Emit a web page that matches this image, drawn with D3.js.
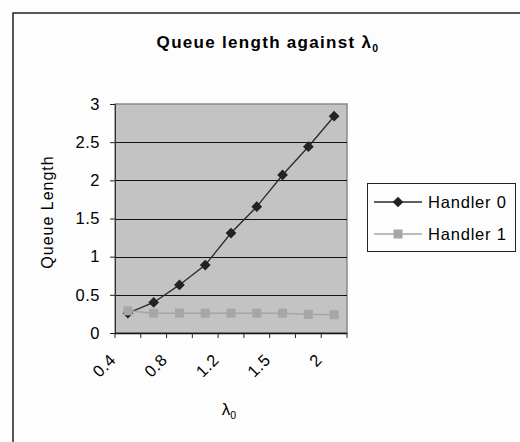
<!DOCTYPE html>
<html>
<head>
<meta charset="utf-8">
<script src="https://cdn.jsdelivr.net/npm/d3@7"></script>
<style>
  html, body { margin: 0; padding: 0; background: #fdfdfd; }
  svg { display: block; }
  text { font-family: "Liberation Sans", Arial, sans-serif; fill: #000; }
</style>
</head>
<body>
<svg id="chart" width="520" height="442"></svg>
<script>
// ---- data ----
const categories = ["0.4", "0.6", "0.8", "1", "1.2", "1.35", "1.5", "1.8", "2"];
const labelledCategories = ["0.4", "0.8", "1.2", "1.5", "2"];
const handler0 = [0.26, 0.40, 0.63, 0.89, 1.31, 1.655, 2.07, 2.44, 2.84];
const handler1 = [0.29, 0.26, 0.26, 0.26, 0.26, 0.26, 0.26, 0.245, 0.24];
const yTicks = [0, 0.5, 1, 1.5, 2, 2.5, 3];
const seriesNames = ["Handler 0", "Handler 1"];

const svg = d3.select("#chart");

// outer chart border (extends beyond the window at right/bottom)
svg.append("rect").attr("x", 13).attr("y", 13).attr("width", 520).attr("height", 440)
  .attr("fill", "#fdfdfd").attr("stroke", "#222").attr("stroke-width", 1.5);

const plot = { left: 115, right: 347, top: 104, bottom: 333 };

const x = d3.scaleBand().domain(categories).range([plot.left, plot.right]).padding(0);
const y = d3.scaleLinear().domain([0, 3]).range([plot.bottom, plot.top]);

// plot area
svg.append("rect")
  .attr("x", plot.left).attr("y", plot.top)
  .attr("width", plot.right - plot.left).attr("height", plot.bottom - plot.top)
  .attr("fill", "#c3c3c3").attr("stroke", "#8a8a8a").attr("stroke-width", 1.5);

// gridlines
svg.append("g").selectAll("line").data(yTicks.filter(d => d > 0 && d < 3)).join("line")
  .attr("x1", plot.left).attr("x2", plot.right)
  .attr("y1", d => Math.round(y(d)) + 0.5).attr("y2", d => Math.round(y(d)) + 0.5)
  .attr("stroke", "#111").attr("stroke-width", 1);

// y axis
const yAxis = d3.axisLeft(y).tickValues(yTicks).tickSize(5).tickPadding(10).tickFormat(d3.format("~g"));
const gy = svg.append("g").attr("transform", `translate(${plot.left},0)`).call(yAxis);
gy.select(".domain").attr("stroke", "#333");
gy.selectAll(".tick line").attr("stroke", "#222");
gy.selectAll(".tick text").attr("font-size", 16.5).attr("letter-spacing", "0.5px")
  .attr("font-family", "Liberation Sans, Arial, sans-serif").attr("fill", "#000");

// x axis: line + ticks at category boundaries
const gx = svg.append("g").attr("transform", `translate(0,${plot.bottom})`);
gx.append("line").attr("x1", plot.left).attr("x2", plot.right).attr("y1", 0.5).attr("y2", 0.5)
  .attr("stroke", "#111").attr("stroke-width", 1.5);
const boundaries = categories.map(c => x(c)).concat([x.range()[1]]);
gx.selectAll("line.tk").data(boundaries).join("line").attr("class", "tk")
  .attr("x1", d => d).attr("x2", d => d).attr("y1", 0).attr("y2", 5)
  .attr("stroke", "#222").attr("stroke-width", 1);
gx.selectAll("text.lbl").data(labelledCategories).join("text").attr("class", "lbl")
  .attr("transform", d => `translate(${x(d) + x.bandwidth() / 2 - 11},${28}) rotate(-45)`)
  .attr("text-anchor", "end")
  .attr("font-size", 16.5).attr("letter-spacing", "0.5px")
  .text(d => d);

// lines
const line = d3.line().x((d, i) => x(categories[i]) + x.bandwidth() / 2).y(d => y(d));
svg.append("path").datum(handler0).attr("d", line)
  .attr("fill", "none").attr("stroke", "#2a2a2a").attr("stroke-width", 1.3);
svg.append("g").selectAll("path").data(handler0).join("path")
  .attr("transform", (d, i) => `translate(${x(categories[i]) + x.bandwidth() / 2},${y(d)}) rotate(45)`)
  .attr("d", "M-3.8,-3.8H3.8V3.8H-3.8Z").attr("fill", "#222");

svg.append("path").datum(handler1).attr("d", line)
  .attr("fill", "none").attr("stroke", "#a6a6a6").attr("stroke-width", 1.5);
svg.append("g").selectAll("rect").data(handler1).join("rect")
  .attr("x", (d, i) => x(categories[i]) + x.bandwidth() / 2 - 4.5).attr("y", d => y(d) - 4.5)
  .attr("width", 9).attr("height", 9).attr("fill", "#a6a6a6");

// title
const title = svg.append("text").attr("x", 268).attr("y", 48).attr("text-anchor", "middle")
  .attr("font-size", 17).attr("font-weight", "bold").attr("letter-spacing", "1.3px");
title.append("tspan").text("Queue length against λ");
title.append("tspan").attr("font-size", 10.5).attr("dy", 4).text("0");

// y axis title
svg.append("text").attr("transform", "translate(53,212) rotate(-90)").attr("text-anchor", "middle")
  .attr("font-size", 16).attr("letter-spacing", "1px").text("Queue Length");

// x axis title
const xt = svg.append("text").attr("x", 229).attr("y", 415).attr("text-anchor", "middle")
  .attr("font-size", 17);
xt.append("tspan").text("λ");
xt.append("tspan").attr("font-size", 10.5).attr("dy", 4).text("0");

// legend
const lg = svg.append("g");
lg.append("rect").attr("x", 367.5).attr("y", 183.5).attr("width", 148).attr("height", 68)
  .attr("fill", "#fdfdfd").attr("stroke", "#222").attr("stroke-width", 1);
const rows = [
  { name: seriesNames[0], color: "#2a2a2a", y: 202, marker: "diamond" },
  { name: seriesNames[1], color: "#a6a6a6", y: 234, marker: "square" }
];
rows.forEach(r => {
  lg.append("line").attr("x1", 374).attr("x2", 422).attr("y1", r.y).attr("y2", r.y)
    .attr("stroke", r.color).attr("stroke-width", 1.5);
  if (r.marker === "diamond") {
    lg.append("path").attr("transform", `translate(398,${r.y}) rotate(45)`)
      .attr("d", "M-3.8,-3.8H3.8V3.8H-3.8Z").attr("fill", "#222");
  } else {
    lg.append("rect").attr("x", 393.5).attr("y", r.y - 4.5).attr("width", 9).attr("height", 9)
      .attr("fill", r.color);
  }
  lg.append("text").attr("x", 428).attr("y", r.y + 6).attr("font-size", 16.5)
    .attr("letter-spacing", "0.8px").text(r.name);
});
</script>
</body>
</html>
